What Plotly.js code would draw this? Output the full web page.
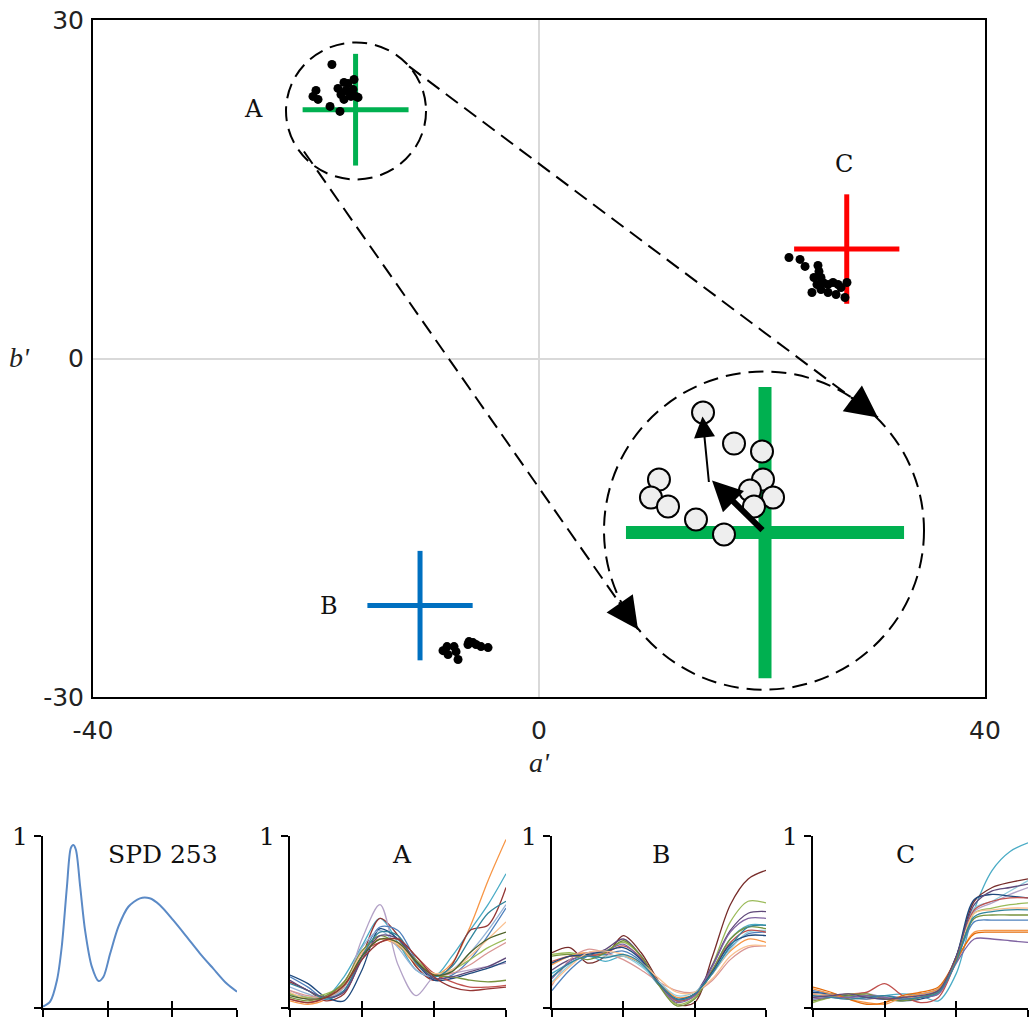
<!DOCTYPE html>
<html><head><meta charset="utf-8">
<script src="https://cdn.plot.ly/plotly-3.0.1.min.js"></script>
<style>html,body{margin:0;padding:0;background:#fff}#chart{width:1032px;height:1021px}</style>
</head><body><div id="chart"></div>
<script>
// ---------------- main a'b' chart data ----------------
const groupNames = ['A', 'B', 'C'];
const crossCenterX = [-16.45, -10.67, 27.6];
const crossCenterY = [22.05, -21.9, 9.7];
const crossHalfW = [4.75, 4.72, 4.72];
const crossHalfH = [4.95, 4.85, 4.85];
const groupLabelX = [-25.65, -18.83, 27.35];
const groupLabelY = [22.07, -21.9, 17.2];
const mainXTicks = [-40, 0, 40];
const mainXTickText = ['-40', '0', '40'];
const mainYTicks = [-30, 0, 30];
const mainYTickText = ['-30', '0', '30'];

const dotsAX = [-18.57, -20.0, -20.27, -19.82, -18.74, -17.85, -18.03, -17.49, -17.13, -16.59, -17.49, -17.04, -16.68, -16.41, -16.23, -16.86, -17.31, -17.76];
const dotsAY = [26.06, 23.76, 23.23, 22.96, 22.34, 21.90, 23.94, 24.47, 24.38, 24.73, 22.96, 23.58, 23.85, 23.23, 23.14, 23.23, 23.76, 23.40];
const dotsBX = [-8.61, -8.25, -7.62, -7.44, -7.26, -6.28, -5.92, -5.65, -5.20, -4.57, -6.37, -8.16];
const dotsBY = [-25.89, -25.53, -25.53, -25.98, -26.68, -25.09, -25.18, -25.35, -25.53, -25.62, -25.35, -26.24];
const dotsCX = [22.42, 23.41, 23.86, 25.02, 25.11, 24.66, 25.29, 25.47, 24.93, 25.92, 26.37, 26.82, 27.62, 24.48, 25.29, 25.92, 26.64, 27.44, 27.09];
const dotsCY = [8.95, 8.78, 8.16, 8.24, 7.71, 7.18, 7.18, 6.74, 6.56, 6.56, 6.74, 6.56, 6.74, 5.85, 6.12, 5.85, 5.67, 5.41, 6.29];

// magnified view of group A
const zoomCrossX = 20.27, zoomCrossY = -15.43, zoomHalfW = 12.47, zoomHalfH = 12.9;
const zoomPtsX = [14.71, 17.49, 20.0, 10.76, 10.04, 11.57, 14.08, 16.59, 20.09, 18.92, 20.99, 19.28];
const zoomPtsY = [-4.79, -7.54, -8.24, -10.73, -12.32, -13.12, -14.27, -15.60, -10.73, -11.70, -12.32, -13.12];

// dashed circles: [small around A, magnified]
const circleCX = [-16.41, 20.18];
const circleCY = [21.94, -15.25];
const circleRX = [6.28, 14.35];
const circleRY = [6.07, 14.1];

// dashed connectors (start -> arrow tip)
const connStartX = [-11.66, -21.08];
const connStartY = [25.89, 18.35];
const connEndX = [30.40, 8.88];
const connEndY = [-5.23, -24.02];

// arrows inside magnified view
const vecTailX = [20.18, 15.25];
const vecTailY = [-15.34, -11.08];
const vecTipX = [15.52, 14.66];
const vecTipY = [-10.82, -5.14];

// ---------------- small spectral panels ----------------
const spdWl = [400, 411, 421.6, 429, 437, 443, 447, 451, 457.5, 465, 475.5, 486, 493.5, 504, 516.6, 532, 550, 565, 580.5, 601, 622, 642.5, 663, 683.6, 700];
const spdVal = [0.006, 0.035, 0.16, 0.355, 0.705, 0.93, 0.948, 0.918, 0.705, 0.452, 0.239, 0.155, 0.18, 0.317, 0.472, 0.588, 0.637, 0.637, 0.598, 0.511, 0.414, 0.317, 0.229, 0.142, 0.093];

const wl = [400, 425, 450, 475, 500, 525, 550, 575, 600, 625, 650, 675, 700];
const reflA = [
  [0.04, 0.02, 0.05, 0.14, 0.33, 0.40, 0.36, 0.25, 0.19, 0.26, 0.47, 0.74, 0.98],
  [0.08, 0.05, 0.06, 0.18, 0.36, 0.52, 0.38, 0.22, 0.18, 0.30, 0.45, 0.60, 0.78],
  [0.15, 0.10, 0.04, 0.08, 0.30, 0.52, 0.42, 0.24, 0.16, 0.25, 0.45, 0.48, 0.70],
  [0.10, 0.06, 0.05, 0.12, 0.40, 0.60, 0.25, 0.07, 0.18, 0.20, 0.22, 0.24, 0.26],
  [0.18, 0.12, 0.05, 0.10, 0.30, 0.47, 0.45, 0.28, 0.17, 0.19, 0.28, 0.42, 0.58],
  [0.19, 0.14, 0.06, 0.04, 0.22, 0.46, 0.40, 0.26, 0.16, 0.17, 0.20, 0.23, 0.27],
  [0.08, 0.06, 0.08, 0.14, 0.30, 0.40, 0.38, 0.28, 0.20, 0.22, 0.28, 0.35, 0.40],
  [0.05, 0.03, 0.06, 0.15, 0.32, 0.38, 0.40, 0.30, 0.20, 0.15, 0.12, 0.12, 0.13],
  [0.12, 0.08, 0.05, 0.12, 0.35, 0.45, 0.35, 0.22, 0.18, 0.22, 0.32, 0.45, 0.60],
  [0.10, 0.07, 0.06, 0.12, 0.30, 0.40, 0.38, 0.26, 0.19, 0.20, 0.25, 0.32, 0.38],
  [0.06, 0.04, 0.07, 0.15, 0.33, 0.42, 0.37, 0.26, 0.19, 0.18, 0.16, 0.15, 0.16],
  [0.09, 0.05, 0.06, 0.13, 0.32, 0.40, 0.37, 0.26, 0.20, 0.22, 0.30, 0.40, 0.50],
  [0.14, 0.10, 0.05, 0.10, 0.30, 0.44, 0.42, 0.26, 0.18, 0.24, 0.40, 0.55, 0.62],
  [0.16, 0.10, 0.06, 0.09, 0.28, 0.42, 0.40, 0.27, 0.17, 0.18, 0.21, 0.24, 0.29],
  [0.07, 0.05, 0.06, 0.13, 0.30, 0.40, 0.38, 0.27, 0.19, 0.21, 0.32, 0.40, 0.44],
  [0.05, 0.03, 0.06, 0.13, 0.28, 0.38, 0.40, 0.30, 0.18, 0.12, 0.10, 0.11, 0.12]
];
const reflB = [
  [0.32, 0.35, 0.26, 0.30, 0.42, 0.32, 0.15, 0.02, 0.03, 0.30, 0.60, 0.75, 0.80],
  [0.31, 0.32, 0.30, 0.33, 0.38, 0.30, 0.14, 0.02, 0.06, 0.25, 0.50, 0.62, 0.61],
  [0.22, 0.28, 0.30, 0.34, 0.40, 0.30, 0.14, 0.04, 0.08, 0.25, 0.45, 0.55, 0.56],
  [0.20, 0.26, 0.30, 0.27, 0.30, 0.25, 0.13, 0.04, 0.08, 0.22, 0.40, 0.48, 0.48],
  [0.10, 0.22, 0.30, 0.31, 0.33, 0.27, 0.15, 0.05, 0.08, 0.20, 0.35, 0.43, 0.44],
  [0.25, 0.30, 0.32, 0.30, 0.30, 0.26, 0.15, 0.06, 0.08, 0.20, 0.33, 0.40, 0.38],
  [0.13, 0.28, 0.34, 0.32, 0.28, 0.22, 0.15, 0.10, 0.09, 0.16, 0.28, 0.35, 0.36],
  [0.15, 0.25, 0.32, 0.30, 0.30, 0.24, 0.15, 0.07, 0.09, 0.20, 0.34, 0.44, 0.45],
  [0.27, 0.30, 0.30, 0.32, 0.36, 0.29, 0.14, 0.04, 0.07, 0.22, 0.38, 0.45, 0.44],
  [0.17, 0.27, 0.32, 0.33, 0.37, 0.28, 0.13, 0.03, 0.07, 0.24, 0.44, 0.52, 0.52],
  [0.30, 0.31, 0.28, 0.32, 0.39, 0.30, 0.13, 0.01, 0.05, 0.22, 0.40, 0.47, 0.46],
  [0.26, 0.30, 0.31, 0.33, 0.35, 0.28, 0.14, 0.05, 0.08, 0.21, 0.37, 0.42, 0.42],
  [0.14, 0.24, 0.32, 0.33, 0.31, 0.26, 0.17, 0.09, 0.09, 0.17, 0.30, 0.36, 0.36],
  [0.18, 0.26, 0.30, 0.29, 0.31, 0.26, 0.14, 0.05, 0.08, 0.20, 0.36, 0.47, 0.48]
];
const reflC = [
  [0.06, 0.08, 0.06, 0.05, 0.07, 0.08, 0.07, 0.04, 0.20, 0.57, 0.80, 0.91, 0.96],
  [0.08, 0.07, 0.06, 0.07, 0.06, 0.05, 0.07, 0.10, 0.30, 0.62, 0.70, 0.73, 0.75],
  [0.05, 0.06, 0.07, 0.06, 0.05, 0.06, 0.08, 0.09, 0.28, 0.58, 0.62, 0.68, 0.74],
  [0.07, 0.06, 0.05, 0.08, 0.06, 0.05, 0.06, 0.08, 0.27, 0.56, 0.61, 0.66, 0.70],
  [0.09, 0.08, 0.07, 0.06, 0.05, 0.04, 0.05, 0.09, 0.30, 0.63, 0.66, 0.65, 0.64],
  [0.06, 0.07, 0.08, 0.09, 0.14, 0.07, 0.03, 0.06, 0.28, 0.57, 0.62, 0.64, 0.64],
  [0.03, 0.06, 0.08, 0.07, 0.06, 0.05, 0.06, 0.09, 0.27, 0.55, 0.58, 0.60, 0.61],
  [0.08, 0.07, 0.06, 0.05, 0.06, 0.05, 0.07, 0.10, 0.29, 0.55, 0.57, 0.58, 0.58],
  [0.10, 0.08, 0.06, 0.05, 0.07, 0.06, 0.08, 0.11, 0.28, 0.50, 0.51, 0.51, 0.51],
  [0.04, 0.06, 0.07, 0.08, 0.05, 0.04, 0.06, 0.10, 0.29, 0.52, 0.54, 0.54, 0.54],
  [0.11, 0.08, 0.05, 0.03, 0.02, 0.06, 0.08, 0.11, 0.27, 0.44, 0.45, 0.45, 0.45],
  [0.12, 0.09, 0.05, 0.02, 0.03, 0.07, 0.09, 0.12, 0.28, 0.43, 0.44, 0.44, 0.44],
  [0.05, 0.06, 0.06, 0.07, 0.06, 0.05, 0.06, 0.08, 0.26, 0.40, 0.40, 0.39, 0.38],
  [0.07, 0.06, 0.05, 0.06, 0.07, 0.05, 0.06, 0.09, 0.27, 0.53, 0.56, 0.57, 0.57],
  [0.06, 0.07, 0.08, 0.06, 0.05, 0.06, 0.07, 0.10, 0.30, 0.60, 0.68, 0.70, 0.72]
];
const panelTitles = ['SPD 253', 'A', 'B', 'C'];

// ---------------- styles ----------------
const crossColors = ['#00B050', '#0070C0', '#FF0000'];
const colorsA = ['#F79646','#4BACC6','#943634','#B3A2C7','#4F81BD','#1F497D','#9BBB59','#C0504D','#95B3D7','#D99694','#77933C','#FAC090','#31859C','#5F497A','#4F6228','#953735'];
const colorsB = ['#772C2A','#9BBB59','#5F497A','#4BACC6','#4F81BD','#F79646','#D99694','#93CDDD','#C0504D','#8064A2','#77933C','#1F497D','#FAC090','#31859C'];
const colorsC = ['#4BACC6','#772C2A','#93CDDD','#B3A2C7','#1F497D','#C0504D','#9BBB59','#FAC090','#4F81BD','#77933C','#F79646','#E46C0A','#8064A2','#31859C','#604A7B'];
const W = 1032, H = 1021;
const px = (a, b) => [a / W, b / W];
const py = (top, bottom) => [1 - bottom / H, 1 - top / H];
const serif = 'DejaVu Serif, serif';
const italicSerif = 'Liberation Serif, Times New Roman, serif';
const sans = 'DejaVu Sans, Arial, sans-serif';
const dashPat = '15px,8px';

const traces = [];
function crossTrace(cx, cy, hw, hh, color, width) {
  return {x: [cx - hw, cx + hw, null, cx, cx], y: [cy, cy, null, cy - hh, cy + hh],
    mode: 'lines', line: {color: color, width: width}, showlegend: false, hoverinfo: 'skip'};
}
traces.push(crossTrace(zoomCrossX, zoomCrossY, zoomHalfW, zoomHalfH, crossColors[0], 13));
for (let i = 0; i < 3; i++) traces.push(crossTrace(crossCenterX[i], crossCenterY[i], crossHalfW[i], crossHalfH[i], crossColors[i], 5));
[[dotsAX, dotsAY], [dotsBX, dotsBY], [dotsCX, dotsCY]].forEach(d => traces.push({
  x: d[0], y: d[1], mode: 'markers', marker: {color: '#000', size: 9}, showlegend: false
}));
traces.push({x: zoomPtsX, y: zoomPtsY, mode: 'markers',
  marker: {color: '#EEEEEE', size: 22, line: {color: '#000', width: 2}}, showlegend: false});
for (let i = 0; i < 2; i++) traces.push({x: [connStartX[i], connEndX[i]], y: [connStartY[i], connEndY[i]],
  mode: 'lines', line: {color: '#000', width: 2, dash: dashPat}, showlegend: false, hoverinfo: 'skip'});

traces.push({x: spdWl, y: spdVal, xaxis: 'x2', yaxis: 'y2', mode: 'lines',
  line: {color: '#5B8AC6', width: 2, shape: 'spline', smoothing: 0.8}, showlegend: false});
[[reflA, colorsA, 3], [reflB, colorsB, 4], [reflC, colorsC, 5]].forEach(p => {
  p[0].forEach((vals, j) => traces.push({x: wl, y: vals, xaxis: 'x' + p[2], yaxis: 'y' + p[2],
    mode: 'lines', line: {color: p[1][j % p[1].length], width: 1.3, shape: 'spline', smoothing: 0.9}, showlegend: false}));
});
for (let k = 6; k <= 9; k++) traces.push({x: [], y: [], xaxis: 'x' + k, yaxis: 'y' + k, showlegend: false});

const layout = {
  width: W, height: H, margin: {l: 0, r: 0, t: 0, b: 0},
  paper_bgcolor: '#fff', plot_bgcolor: 'rgba(0,0,0,0)', showlegend: false,
  xaxis: {domain: px(93, 985), range: [-40, 40], tickvals: mainXTicks, ticktext: mainXTickText, ticks: '', showgrid: false,
    zeroline: true, zerolinecolor: '#D9D9D9', zerolinewidth: 2, showline: true, mirror: true,
    linecolor: '#000', linewidth: 2, tickfont: {family: sans, size: 25, color: '#222'}, ticklabelstandoff: 10,
    title: {text: "<i>a'</i>", font: {family: italicSerif, size: 28, color: '#222'}, standoff: 8}, fixedrange: true},
  yaxis: {domain: py(20, 697), range: [-30, 30], tickvals: mainYTicks, ticktext: mainYTickText, ticks: '', showgrid: false,
    zeroline: true, zerolinecolor: '#D9D9D9', zerolinewidth: 2, showline: true, mirror: true,
    linecolor: '#000', linewidth: 2, tickfont: {family: sans, size: 25, color: '#222'}, ticklabelstandoff: 2, fixedrange: true},
  shapes: [], annotations: []
};
const panelX = [[43, 237], [290, 506], [552, 766], [813, 1028]];
const panelTitleX = [0.62, 0.52, 0.51, 0.43];
for (let i = 0; i < 4; i++) {
  const n = i + 2, m = i + 6;
  const common = {showgrid: false, zeroline: false, fixedrange: true};
  layout['xaxis' + n] = Object.assign({domain: px(panelX[i][0], panelX[i][1]), anchor: 'y' + n, range: [400, 700],
    tickvals: [400, 500, 600, 700], showticklabels: false, ticks: 'outside', ticklen: 7, tickwidth: 2, tickcolor: '#000',
    showline: true, linecolor: '#000', linewidth: 2}, common);
  layout['yaxis' + n] = Object.assign({domain: py(836, 1007.7), anchor: 'x' + n, range: [0, 1],
    tickvals: [0, 1], ticks: 'outside', ticklen: 7, tickwidth: 2, tickcolor: '#000',
    tickfont: {family: serif, size: 25, color: '#111'}, ticklabelstandoff: 1,
    showline: true, linecolor: '#000', linewidth: 2}, common);
  layout['xaxis' + m] = Object.assign({overlaying: 'x' + n, anchor: 'y' + m, range: [400, 700],
    tickvals: [400, 500, 600, 700], showticklabels: false, ticks: 'inside', ticklen: 7, tickwidth: 2, tickcolor: '#000',
    showline: false}, common);
  layout['yaxis' + m] = Object.assign({overlaying: 'y' + n, anchor: 'x' + m, range: [0, 1],
    tickvals: [0, 1], showticklabels: false, ticks: 'inside', ticklen: 7, tickwidth: 2, tickcolor: '#000',
    showline: false}, common);
  layout.annotations.push({xref: 'x' + n + ' domain', yref: 'y' + n + ' domain', x: panelTitleX[i], y: 0.89,
    xanchor: 'center', yanchor: 'middle',
    text: panelTitles[i], showarrow: false, font: {family: serif, size: 25, color: '#111'}});
}
for (let i = 0; i < 2; i++) layout.shapes.push({type: 'circle', xref: 'x', yref: 'y',
  x0: circleCX[i] - circleRX[i], x1: circleCX[i] + circleRX[i], y0: circleCY[i] - circleRY[i], y1: circleCY[i] + circleRY[i],
  line: {color: '#000', width: 2, dash: dashPat}});
for (let i = 0; i < 3; i++) layout.annotations.push({x: groupLabelX[i], y: groupLabelY[i], xref: 'x', yref: 'y',
  xanchor: 'center', yanchor: 'middle',
  text: groupNames[i], showarrow: false, font: {family: serif, size: 24, color: '#111'}});
for (let i = 0; i < 2; i++) {
  const dx = connEndX[i] - connStartX[i], dy = connEndY[i] - connStartY[i];
  layout.annotations.push({x: connEndX[i], y: connEndY[i], ax: connEndX[i] - 0.06 * dx, ay: connEndY[i] - 0.06 * dy,
    xref: 'x', yref: 'y', axref: 'x', ayref: 'y', text: '', showarrow: true, arrowhead: 2, arrowwidth: 2, arrowsize: 3.2, arrowcolor: '#000'});
}
const vecWidth = [6, 2], vecSize = [1.0, 2.1];
for (let i = 0; i < 2; i++) layout.annotations.push({x: vecTipX[i], y: vecTipY[i], ax: vecTailX[i], ay: vecTailY[i],
  xref: 'x', yref: 'y', axref: 'x', ayref: 'y', text: '', showarrow: true, arrowhead: 2,
  arrowwidth: vecWidth[i], arrowsize: vecSize[i], arrowcolor: '#000'});
layout.annotations.push({xref: 'paper', yref: 'paper', x: 19 / W, y: 1 - 357 / H, xanchor: 'center', yanchor: 'middle',
  text: "<i>b'</i>", showarrow: false, font: {family: italicSerif, size: 28, color: '#222'}});

Plotly.newPlot('chart', traces, layout, {staticPlot: true});
</script></body></html>
